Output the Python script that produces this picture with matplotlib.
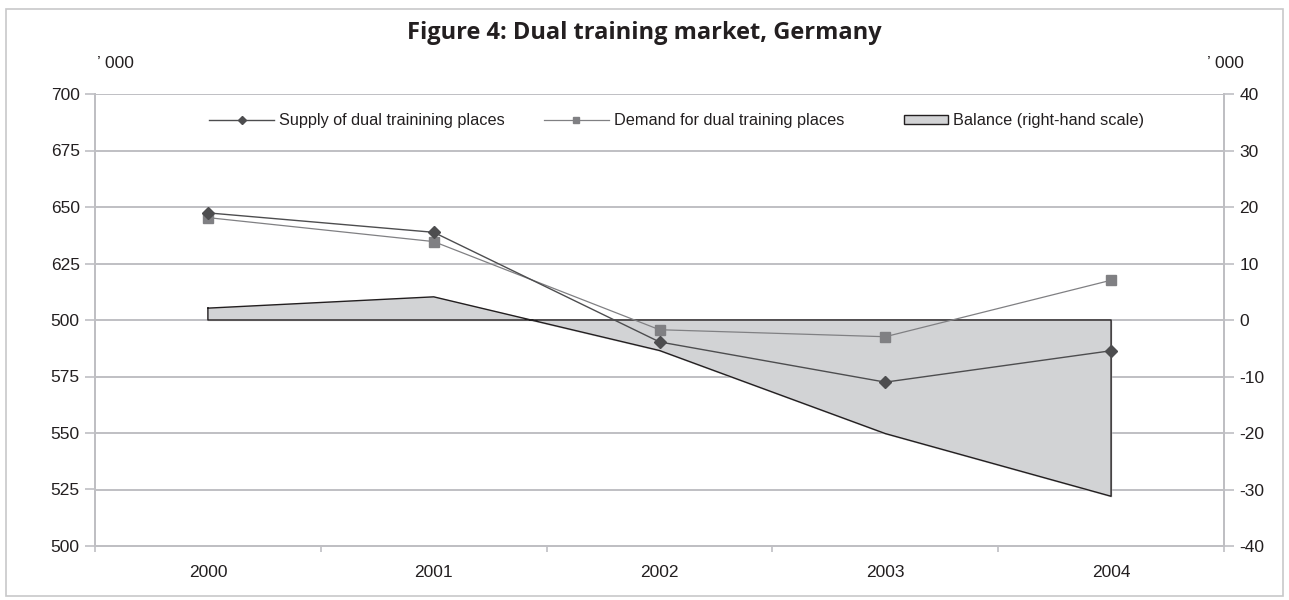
import numpy as np
import matplotlib.pyplot as plt
from matplotlib.patches import Rectangle, Patch
from matplotlib.lines import Line2D
from matplotlib.legend_handler import HandlerPatch

# data (thousands)
years = ['2000', '2001', '2002', '2003', '2004']
supply = [647.4, 638.8, 590.3, 572.5, 586.4]
demand = [645.3, 634.7, 595.7, 592.6, 617.6]
balance = [2.1, 4.1, -5.4, -20.1, -31.2]

left_ticks = [500, 525, 550, 575, 600, 625, 650, 675, 700]
left_labels = ['500', '525', '550', '575', '500', '625', '650', '675', '700']  # as printed in the source
right_ticks = [-40, -30, -20, -10, 0, 10, 20, 30, 40]

plt.rcParams['font.family'] = ['Liberation Sans', 'DejaVu Sans']
plt.rcParams['axes.unicode_minus'] = False
grid_c = '#BFBFC3'
text_c = '#231F20'
fs = 12.5
fs_leg = 11.7

fig = plt.figure(figsize=(12.89, 6), dpi=100)
ax = fig.add_axes([95/1289, 1 - 546/600, 1129/1289, 452/600])
ax2 = ax.twinx()
x = np.arange(len(years))

# balance area on right-hand scale, drawn behind the lines
ax2.fill_between(x, balance, 0, color='#D2D3D5', zorder=2)
ax2.plot(list(x) + [x[-1], x[0], x[0]], balance + [0, 0, balance[0]],
         color='#231F20', lw=1.0, zorder=3)
ax2.set_ylim(-40, 40)
ax2.set_yticks(right_ticks)
ax2.grid(axis='y', color=grid_c, lw=1.4, zorder=0)
ax2.set_axisbelow(True)

# lines on the left scale, on top
ax.set_zorder(ax2.get_zorder() + 1)
ax.patch.set_visible(False)
ax.plot(x, supply, color='#4D4D4F', lw=1.0, marker='D', ms=6, zorder=5)
ax.plot(x, demand, color='#808083', lw=0.9, marker='s', ms=7, zorder=4)
ax.set_ylim(500, 700)
ax.set_yticks(left_ticks)
ax.set_yticklabels(left_labels)
ax.set_xlim(-0.5, 4.5)
ax.set_xticks(np.arange(-0.5, 5, 1.0))
ax.set_xticklabels([])
ax.set_xticks(x, minor=True)
ax.set_xticklabels(years, minor=True)
ax.tick_params(axis='x', which='major', length=4, color=grid_c, width=1.2)
ax.tick_params(axis='x', which='minor', length=0, pad=14, labelsize=fs, labelcolor=text_c)
ax.tick_params(axis='y', length=7, color=grid_c, width=1.2, labelsize=fs, labelcolor=text_c, pad=4)
ax2.tick_params(axis='y', length=7, color=grid_c, width=1.2, labelsize=fs, labelcolor=text_c, pad=4)

for a in (ax, ax2):
    for s in a.spines.values():
        s.set_color(grid_c)
        s.set_linewidth(1.4)
ax.spines['top'].set_visible(False)
ax2.spines['top'].set_visible(False)

# axis units
fig.text(97/1289, 1 - 63/600, '\u2019 000', fontsize=fs, color=text_c, va='center', ha='left')
fig.text(1244/1289, 1 - 63/600, '\u2019 000', fontsize=fs, color=text_c, va='center', ha='right')

fig.text(0.5, 1 - 33/600, 'Figure 4: Dual training market, Germany',
         fontsize=17, fontweight='bold', ha='center', va='center', color=text_c,
         family=['Open Sans', 'DejaVu Sans'])


def small_box(legend, orig_handle, xdescent, ydescent, width, height, fontsize):
    w = width * 0.68
    return Rectangle((-xdescent + width - w, -ydescent), w, height)


handles = [
    Line2D([], [], color='#4D4D4F', lw=1.0, marker='D', ms=4),
    Line2D([], [], color='#808083', lw=0.9, marker='s', ms=4),
    Patch(facecolor='#D2D3D5', edgecolor='#231F20', lw=1.0),
]
labels = ['Supply of dual trainining places', 'Demand for dual training places',
          'Balance (right-hand scale)']
leg = ax.legend(handles, labels, loc='upper center', bbox_to_anchor=(0.515, 0.99), ncol=3,
                frameon=False, fontsize=fs_leg, handlelength=4.0, handleheight=0.45,
                columnspacing=2.4, handletextpad=0.3, labelcolor=text_c,
                handler_map={Patch: HandlerPatch(patch_func=small_box)})

# thin frame around the figure
fig.patches.append(Rectangle((6/1289, 4/600), 1277/1289, 587/600, transform=fig.transFigure,
                             fill=False, edgecolor='#C8C8CA', lw=1.2))

fig.savefig('out.png', dpi=100)
